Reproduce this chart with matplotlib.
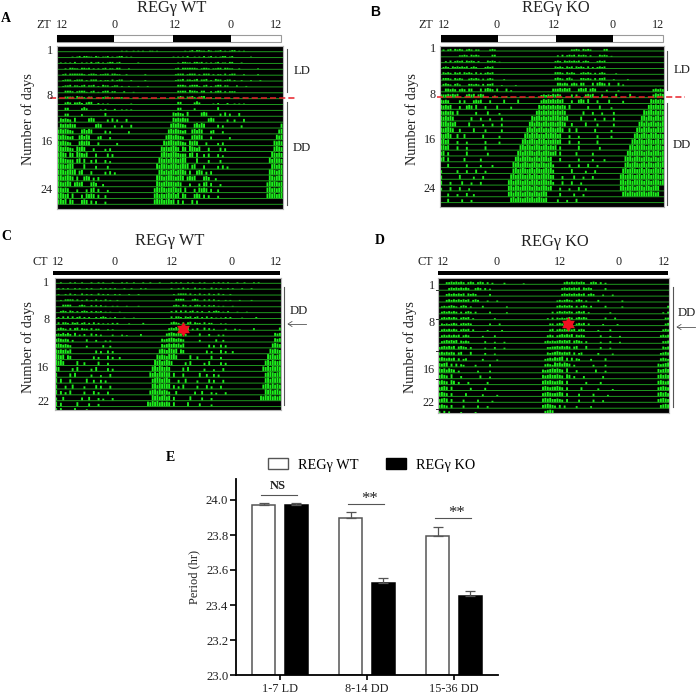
import matplotlib
matplotlib.use("Agg")
import matplotlib.pyplot as plt
import numpy as np
from matplotlib.lines import Line2D
from matplotlib.patches import Rectangle, Patch
from matplotlib.path import Path
from matplotlib.transforms import Affine2D

plt.rcParams['font.family'] = ['Liberation Serif', 'DejaVu Sans']

W, H = 698, 694
# Activity read per day: one char per half hour, '.' none, 1-9 height. '|' pushes the rest to the day's end.
DAYS_A = [
"...........................1.1..1.1.1..11.1.....",
"......1.12.2211.21.112.1.122.1.1",
".1.1.1.2..1.1.2.12.1.122.12.......1",
"...1.2211.2212.1.1.12.11.22...1",
"..12.2222221.1221.1122.2211..1.......1",
"..1222.1222.1.222.1.11.2.122...1.....1",
"..1223.22123.223.1.322.122.1..1...1...1",
"...3332.23331.23.1.233.22...2...1",
"...3333.4332.33..2.233.2.222",
"...343.3342.344..2.1.1.........1",
"...44.....353.....1.2...2..1.1.1",
"...44.....3.........5",
".65654.7.....676.....4.6.4...5",
".7676766........676.....4..4...5",
"7878765...78687.....5.4.......4|7",
"8787656..78687...56...4.|78",
"878765...78787...5.......4|878",
"9878765.8787...5....4.5.|8787",
"8987.87.98768...6....6.5|8987",
"8987666.78.7..5.6...5.3|98787",
"9887899....8....5....5|979887",
"89878989.78...6.....5.6.4|89787",
"8978987.7..787.5.6|998789",
"987898.7878...786..4.|987898",
"88787...5...5.78.6...4|7989878",
"89878.8...6.8787.6..5|8978789",
"8979.87...787.6.5...4|8989789",
"78.7.6...7.6",
]
DAYS_B = [
".2.23.3232.232.22....232",
"........2232.3232.....33",
"..2.3.2323.3232.2...3232.1",
".232.3232323.232...2323",
".3232.323.3232.3.2.2323",
".3332.3232..23232.2.232....1",
".3432.342...33232.3.334...1.....1",
"..55454.454.55...5.5654.5...5.2.",
"55565656...5656.565....3....2|45454",
"6565....5.5...5656...5.....6.....6|57676",
"76767...5..676.7...5....6.....4|767676",
"767676.7.......5....6....3|7878787",
"878787.......6...5...4....5|878978787",
"9897878.....7.....4...5...5|8979878978",
"878987..6.....7....5......5|89797897879",
"87897..7..7.......6......4|897989787989",
"8978...5...4.......5.....4|8978987989787",
"8878...6...5.......6|89798789878978",
"78.6.......7........5|897989878978987",
"78.7......6......5|8979898789798978",
"...6.......5.....4....4|98978987898798789",
"5......5...5...6...4|89789878979878989",
"6.......7.....4...5|897898789798789897",
"7...5....6...4...5|8978987897989789878",
"5...6...6...4|8979879898798789878",
"...5...4...6..4|89798978987987898..",
"...6.....5...4|8979878989789878..",
"..5...4...6",
]
DAYS_C = [
"..1...1.1..1...1..1.1...1...1.1..1...1..1...1",
".1.1.1..1.1..1.1...1.1.1.1...1..1...1.1",
".1..1.2.1..2.1.1..2.1.1..1.1...1...1",
"..1.2222.2.1.2.1.2.1.2.1..1",
"...3333...232..2.2.2.1..1.1...1....1",
"..232.32.2.232.2.212.1.1...1",
".2.3.3.3.23.2.2..2.232.1.2...1...1",
".3.332.323.23.2.3.2.1.1.2.2....1.....2",
".3432.3.34.322.3.22...1.1",
"3435353.5.2.3..4.3.2....2...2.1.....3|4",
"565454.3.....4...3...2.2|545",
"6765654......3......4..3|656",
"7676757..........5.4..5.4|7876",
"9878.76.........5.4...6.4..4|87876",
"9897.....7..5.....6...4|989789",
"87.....5.7.....4.7....5.4|8979878",
"7.....6.7......4...3...5|87979898",
"8.7...6......7..5..5.4|7898789",
"7...5..7....4....6.5...5|8979898",
"8.6.4.7.....5...6.4...5|78979787",
"5..6.......5..6...4.3...4|9897897",
"8.6......7....5...4|879897878",
"7.7.....7....5....3",
]
DAYS_D = [
"...33434343.343.343.3.2....2.......1",
"....343434343..343.3.2",
"...34343434.4343.....3",
"...3434343434.343...2...2",
".2323432.343.2....3.........2",
".3434343.3.343.3.....3......2|3",
".3434343.3434.2........2|2.3",
".3232343.34343.......3...3|33",
".3434343.3434.3.....2.....2|34",
".34343434.343.....2....3|343",
".3454545.4343......3...2...2|3434",
"3454545.4543.3.....2...3...2|334",
"4545454.45...5.....3...2|434",
"5654545.4.34......3.....2|3454",
"6567.5.5.43....3.....4|4543",
"7675765.3.......3....3|54567",
"6765.7...4.......5...3|65676",
"6765.76.4...4.......4|67676",
"5676.6.......4.....4|67656",
"6765.5.....5......3.....2|56765",
"5676.5....4.....4.....2|67675",
"5654.5....4.....4...3|56765",
"4.5.4....3.....3|5676",
]

BAR_GROUPS = ["1-7 LD", "8-14 DD", "15-36 DD"]
WT_VALUES = [23.97, 23.90, 23.795]
KO_VALUES = [23.97, 23.525, 23.45]
WT_ERR = [0.015, 0.03, 0.05]
KO_ERR = [0.015, 0.03, 0.03]
Y_TICKS = [23.0, 23.2, 23.4, 23.6, 23.8, 24.0]
SIGNIF = ["NS", "**", "**"]
SIGNIF_Y = [24.03, 23.977, 23.897]
GROUP_NAME = ["REG\u03b3 WT", "REG\u03b3 KO"]

fig = plt.figure(figsize=(W / 100, H / 100), dpi=100)
PX = Affine2D().scale(1 / W, -1 / H).translate(0, 1) + fig.transFigure
INK = '#222222'
GRAY = '#555555'
GREEN = '#1cf01c'
BASE = '#1f9a1f'


def txt(x, y, s, size=8.7, **kw):
    kw.setdefault('ha', 'center')
    kw.setdefault('va', 'center')
    kw.setdefault('color', INK)
    fig.text(x, y, s, transform=PX, fontsize=size, **kw)


def seg(xs, ys, color=GRAY, lw=0.8, **kw):
    fig.add_artist(Line2D(xs, ys, transform=PX, color=color, lw=lw, **kw))


def rect(x0, y0, x1, y1, fc, ec='none', lw=0.0):
    fig.add_artist(Rectangle((x0, y0), x1 - x0, y1 - y0, transform=PX, fc=fc, ec=ec, lw=lw))


def px_axes(x0, y0, x1, y1):
    return fig.add_axes([x0 / W, 1 - y1 / H, (x1 - x0) / W, (y1 - y0) / H])


def parse(s):
    left, _, right = s.partition('|')
    fill = max(0, 48 - len(left) - len(right))
    body = (left + '.' * fill + right)[:48]
    return [0.0 if c == '.' else (int(c) + 0.7) / 9.7 for c in body]


def actogram(days, box, b0, step, nrows):
    x0, y0, x1, y1 = box
    ax = px_axes(x0, y0, x1, y1)
    ax.set_facecolor('black')
    ax.set_xlim(0, 48)
    ax.set_ylim((y1 - b0) / step + 1, (y0 - b0) / step + 1)
    ax.set_xticks([])
    ax.set_yticks([])
    for sp in ax.spines.values():
        sp.set_color('#b5b5b5')
        sp.set_linewidth(0.8)
    vals = [parse(d) for d in days]
    centres = np.arange(0.25, 48, 0.5)
    for r in range(1, nrows + 1):
        left = vals[r - 1] if r - 1 < len(vals) else [0.0] * 48
        right = vals[r] if r < len(vals) else [0.0] * 48
        h = np.array(left + right) * 0.94
        keep = h > 0
        coll = ax.vlines(centres[keep], r - h[keep], r, color=GREEN, lw=1.35)
        coll.set_snap(False)
        base = ax.axhline(r, color=BASE, lw=0.7)
        base.set_snap(False)
    return ax


# Panel A
actogram(DAYS_A, (57.3, 46, 282.7, 208.7), 51.7, 5.87, 27)
# Panel B
actogram(DAYS_B, (440, 46, 664, 207), 51.0, 5.83, 27)
# Panel C
actogram(DAYS_C, (55, 278, 281, 410), 283.3, 5.87, 23)
# Panel D
actogram(DAYS_D, (438.3, 278, 669.3, 413), 284.3, 5.9, 23)

# Panel letters and titles
txt(6, 18, "A", 10, fontweight='bold', color='black')
txt(375, 12, "B", 10, fontweight='bold', color='black', family='Liberation Sans')
txt(6, 237, "C", 10, fontweight='bold', color='black')
txt(380, 241, "D", 10, fontweight='bold', color='black')
txt(170, 458, "E", 10, fontweight='bold', color='black')
txt(171.7, 7.5, GROUP_NAME[0], 11.8)
txt(556, 7.5, GROUP_NAME[1], 11.8)
txt(170, 241, GROUP_NAME[0], 11.8)
txt(555, 241.7, GROUP_NAME[1], 11.8)

# Top time labels
for x, s in zip((44, 61.7, 114.3, 175, 230.7, 276), ("ZT", "12", "0", "12", "0", "12")):
    txt(x, 25, s, 8.7)
for x, s in zip((426, 444, 496.7, 554, 613, 658), ("ZT", "12", "0", "12", "0", "12")):
    txt(x, 25, s, 8.7)
for x, s in zip((40.7, 58, 115, 172, 231.7, 276), ("CT", "12", "0", "12", "0", "12")):
    txt(x, 261.7, s, 8.7)
for x, s in zip((425, 443, 496.7, 560, 619, 664), ("CT", "12", "0", "12", "0", "12")):
    txt(x, 261.7, s, 8.7)

# Light/dark bars
for edges_px in ((56.7, 114, 173.3, 231, 281), (440.7, 497.7, 555.7, 612.7, 662.7)):
    a, b, c, d, e = edges_px
    rect(a, 34.5, e, 41.8, 'white', ec='#9a9a9a', lw=0.8)
    rect(a, 34.5, b, 41.8, 'black')
    rect(c, 34.5, d, 41.8, 'black')
rect(53.3, 271, 279.5, 275, 'black')
rect(437.7, 271, 668.3, 275, 'black')

# Day labels
for y, s in zip((50.7, 96, 142, 190), ("1", "8", "16", "24")):
    txt(53, y, s, 8.7, ha='right')
for y, s in zip((49.5, 95, 140, 189), ("1", "8", "16", "24")):
    txt(436, y, s, 8.7, ha='right')
for y, s in zip((282.7, 320, 368, 402), ("1", "8", "16", "22")):
    txt(49.5, y, s, 8.7, ha='right')
for y, s in zip((286, 323.5, 370, 403), ("1", "8", "16", "22")):
    txt(434.5, y, s, 8.7, ha='right')
for y in (290, 319.3, 350.7, 379.3, 409):
    seg((435.5, 438.3), (y, y), color='#333333', lw=0.7)
txt(28, 119, "Number of days", 10.3, rotation=90)
txt(412, 119, "Number of days", 10.3, rotation=90)
txt(28, 347, "Number of days", 10.3, rotation=90)
txt(410, 347, "Number of days", 10.3, rotation=90)

# Brackets and labels
seg((286.7, 286.7), (49, 92))
seg((286.7, 286.7), (102, 205))
txt(301.7, 70.7, "LD", 9.2)
txt(302, 148, "DD", 9.2)
seg((667, 667), (51, 90))
seg((667, 667), (103, 205))
txt(681.7, 70, "LD", 9.2)
txt(682, 145, "DD", 9.2)
seg((284, 284), (286.7, 405))
txt(299, 310.7, "DD", 9.2)
seg((672.7, 672.7), (286.7, 406.7))
txt(687, 313, "DD", 9.2)
for x0, x1, y in ((306, 288, 324), (695, 677, 327)):
    fig.add_artist(Line2D([x0, x1], [y, y], transform=PX, color=GRAY, lw=0.6))
    fig.add_artist(Line2D([x1 + 4, x1, x1 + 4], [y - 2.5, y, y + 2.5], transform=PX, color=GRAY, lw=0.6))

# Red dashed lines and stars
seg((50, 297), (97.7, 97.7), color='#e8202a', lw=1.1, ls=(0, (4, 2)))
seg((436.7, 685), (96.7, 96.7), color='#e8202a', lw=1.1, ls=(0, (4, 2)))
STAR = Path.unit_regular_star(6, innerCircle=0.6)
for x, y in ((182.7, 328.7), (568.3, 324)):
    fig.add_artist(Line2D([x], [y], transform=PX, marker=STAR, ms=10.5, color='#f01020', mew=0, ls='none'))

# Panel E: bar chart
ax = px_axes(236, 479, 498, 675)
x = np.arange(len(BAR_GROUPS))
off, bw = 0.188, 0.26
ax.bar(x - off, np.array(WT_VALUES) - 23, bw, bottom=23, fc='white', ec=GRAY, lw=1.1, label=GROUP_NAME[0])
ax.bar(x + off, np.array(KO_VALUES) - 23, bw, bottom=23, fc='black', ec='black', lw=1.1, label=GROUP_NAME[1])
ax.errorbar(x - off, WT_VALUES, yerr=[np.zeros(3), WT_ERR], fmt='none', ecolor=GRAY, elinewidth=0.9, capsize=3.6, capthick=0.9)
ax.errorbar(x + off, KO_VALUES, yerr=[np.zeros(3), KO_ERR], fmt='none', ecolor=GRAY, elinewidth=0.9, capsize=3.6, capthick=0.9)
ax.set_xlim(-0.506, 2.506)
ax.set_ylim(23.0, 24.12)
ax.set_yticks(Y_TICKS)
ax.set_yticklabels([f"{v:.1f}" for v in Y_TICKS], fontsize=9.2, color=INK)
ax.set_xticks(x)
ax.set_xticklabels(BAR_GROUPS, fontsize=8.8, color=INK)
ax.tick_params(axis='y', length=4, width=1.2, pad=1.5)
ax.tick_params(axis='x', length=3.5, width=1.2, pad=2.2)
ax.spines[['top', 'right']].set_visible(False)
ax.spines[['left', 'bottom']].set_linewidth(1.3)
ax.set_ylabel("Period (hr)", fontsize=8.9, color=INK, labelpad=4)
for i, (lab, y) in enumerate(zip(SIGNIF, SIGNIF_Y)):
    ax.plot([i - 0.22, i + 0.2], [y, y], color=GRAY, lw=0.8, clip_on=False)
    if lab == "NS":
        ax.text(i - 0.02, y + 0.05, lab, ha='center', va='center', fontsize=9, fontweight='bold', color=INK)
    else:
        ax.text(i + 0.03, y + 0.03, lab, ha='center', va='center', fontsize=12, color=INK)
handles = [Patch(fc='white', ec=GRAY, lw=1.0), Patch(fc='black', ec='black', lw=1.0)]
fig.legend(handles, GROUP_NAME, ncol=2, frameon=False, fontsize=10.3,
           handlelength=1.4, handleheight=0.7, handletextpad=0.7, columnspacing=1.9,
           loc='center left', bbox_to_anchor=(268 / W, 1 - 465 / H), borderaxespad=0, borderpad=0)

fig.savefig("out.png", dpi=100)
